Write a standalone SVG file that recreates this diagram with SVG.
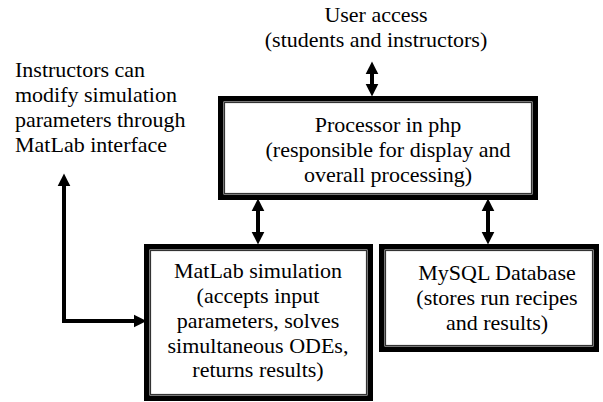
<svg xmlns="http://www.w3.org/2000/svg" width="603" height="402" viewBox="0 0 603 402">
<defs>
<style>
text{font-family:'Liberation Serif','Times New Roman',serif;font-size:22px;fill:#000}
.c{text-anchor:middle}
.outer{fill:#fff;stroke:#000;stroke-width:5.5}
.inner{fill:none;stroke:#333;stroke-width:1.2}
.conn{fill:none;stroke:#000;stroke-width:4}
</style>
<marker id="ah" markerUnits="userSpaceOnUse" markerWidth="14" markerHeight="14" viewBox="0 0 13 12" refX="4" refY="6" orient="auto-start-reverse">
<path d="M0,0 L12,6 L0,12 z" fill="#000"/>
</marker>
</defs>
<rect width="603" height="402" fill="#fff"/>
<g id="user-access">
<text class="c" x="376" y="22">User access</text>
<text class="c" x="376" y="47">(students and instructors)</text>
</g>
<g id="instructors-note">
<text x="15" y="77">Instructors can</text>
<text x="15" y="102">modify simulation</text>
<text x="15" y="127">parameters through</text>
<text x="15" y="152">MatLab interface</text>
</g>
<g id="processor">
<rect class="outer" x="220.75" y="98.75" width="314.5" height="98.5"/>
<rect class="inner" x="224.5" y="102.5" width="307" height="91"/>
<text class="c" x="388" y="132">Processor in php</text>
<text class="c" x="388" y="157">(responsible for display and</text>
<text class="c" x="388" y="182">overall processing)</text>
</g>
<g id="matlab">
<rect class="outer" x="146.75" y="246.75" width="223.5" height="151.5"/>
<rect class="inner" x="150.5" y="250.5" width="216" height="144"/>
<text class="c" x="258" y="278">MatLab simulation</text>
<text class="c" x="258" y="303">(accepts input</text>
<text class="c" x="258" y="328">parameters, solves</text>
<text class="c" x="258" y="353">simultaneous ODEs,</text>
<text class="c" x="258" y="377">returns results)</text>
</g>
<g id="mysql">
<rect class="outer" x="381.75" y="246.75" width="214.5" height="102.5"/>
<rect class="inner" x="385.5" y="250.5" width="207" height="95"/>
<text class="c" x="497" y="280">MySQL Database</text>
<text class="c" x="497" y="305">(stores run recipes</text>
<text class="c" x="497" y="330">and results)</text>
</g>
<g id="connectors">
<line class="conn" x1="372" y1="70" x2="372" y2="88" marker-start="url(#ah)" marker-end="url(#ah)"/>
<line class="conn" x1="258" y1="207" x2="258" y2="236" marker-start="url(#ah)" marker-end="url(#ah)"/>
<line class="conn" x1="488" y1="207" x2="488" y2="236" marker-start="url(#ah)" marker-end="url(#ah)"/>
<path class="conn" d="M64,182 L64,321 L138,321" marker-start="url(#ah)" marker-end="url(#ah)"/>
</g>
</svg>
